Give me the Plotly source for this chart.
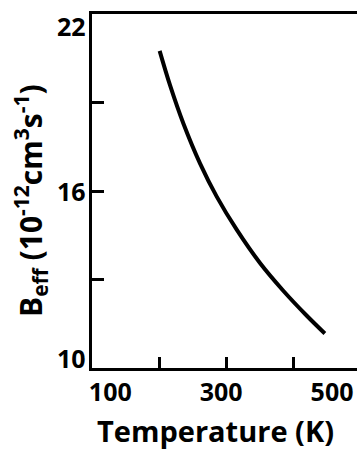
import plotly.graph_objects as go

# Data
temperature_K = [189, 208, 232, 262, 292, 328, 370, 412, 454, 487]
b_eff = [20.75, 19.57, 18.28, 16.93, 15.81, 14.69, 13.56, 12.62, 11.78, 11.17]

x_label_vals = [100, 300, 500]
x_tick_marks = [188, 309, 430]
y_tick_vals = [13, 16, 19]
y_label_vals = [10, 16, 22]
y_label_shift = [10, 0, -12]   # px nudges of the labels, as in the reference

FONT = "Open Sans"

fig = go.Figure()
fig.add_trace(go.Scatter(
    x=temperature_K, y=b_eff, mode="lines",
    line=dict(color="black", width=4, shape="spline", smoothing=1.0),
    showlegend=False, hoverinfo="skip",
))

annotations = []
for v, s in zip(y_label_vals, y_label_shift):
    annotations.append(dict(
        text=f"<b>{v}</b>", xref="paper", yref="y", x=0, y=v,
        xanchor="right", yanchor="middle", xshift=-4, yshift=s,
        showarrow=False, font=dict(family=FONT, size=25, color="black")))

annotations += [
    dict(text="<b>Temperature (K)</b>", xref="paper", yref="paper",
         x=(215 - 92) / 265, y=-(430 - 368) / 354, xanchor="center", yanchor="middle",
         showarrow=False, font=dict(family=FONT, size=29, color="black")),
    dict(text="<b>B<sub>eff</sub> (10<sup>-12</sup>cm<sup>3</sup>s<sup>-1</sup>)</b>",
         xref="paper", yref="paper", x=-(92 - 30) / 265, y=(368 - 201) / 354,
         textangle=-90, xanchor="center", yanchor="middle", showarrow=False,
         font=dict(family=FONT, size=30, color="black")),
]

fig.update_layout(
    width=357, height=449,
    margin=dict(l=92, r=0, t=14, b=81),
    paper_bgcolor="white", plot_bgcolor="white",
    font=dict(family=FONT, color="black"),
    xaxis=dict(
        range=[67, 545], showgrid=False, zeroline=False,
        showline=True, linecolor="black", linewidth=3, mirror=True,
        tickmode="array", tickvals=x_label_vals,
        ticktext=[f"<b>{v}</b>" for v in x_label_vals],
        ticks="", tickfont=dict(family=FONT, size=25, color="black"),
        minor=dict(tickmode="array", tickvals=x_tick_marks, ticks="inside",
                   ticklen=11, tickwidth=3, tickcolor="black", showgrid=False),
    ),
    yaxis=dict(
        range=[10, 22], showgrid=False, zeroline=False,
        showline=True, linecolor="black", linewidth=3, mirror=False,
        tickmode="array", tickvals=y_tick_vals, showticklabels=False,
        ticks="inside", ticklen=12, tickwidth=3, tickcolor="black",
    ),
    annotations=annotations,
)

fig.write_html("out.html")
